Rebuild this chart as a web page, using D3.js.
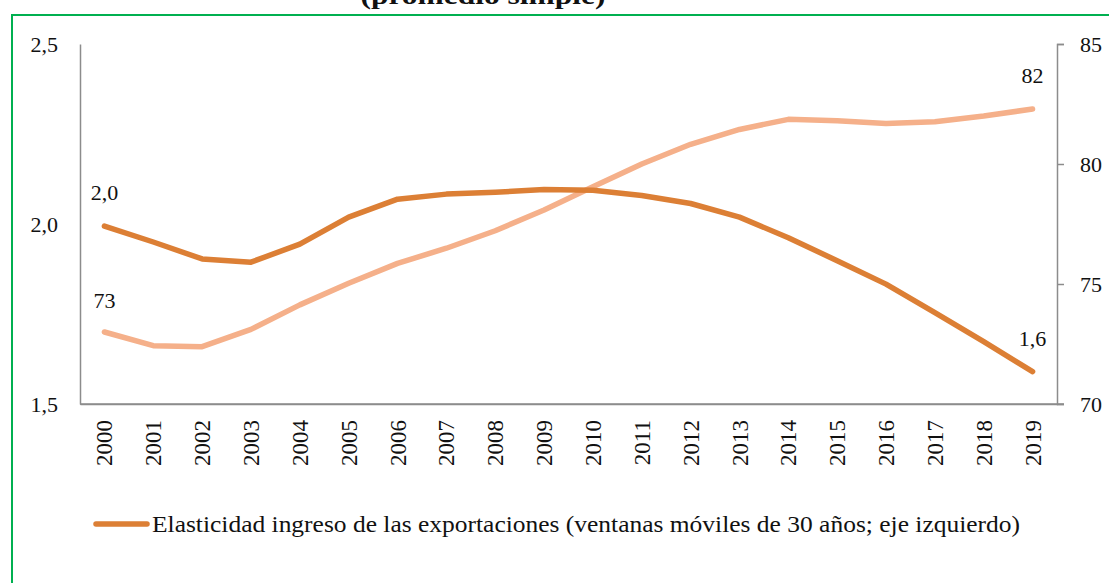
<!DOCTYPE html>
<html>
<head>
<meta charset="utf-8">
<script src="https://cdn.jsdelivr.net/npm/d3@7"></script>
<style>
  body { margin: 0; background: #fff; }
  svg text { font-family: "Liberation Serif", "DejaVu Serif", serif; fill: #111; }
</style>
</head>
<body>
<div id="chart"></div>
<script>
// elasticidad (eje izq) y serie clara (eje der), 2000-2019
const years = ['2000','2001','2002','2003','2004','2005','2006','2007','2008','2009',
               '2010','2011','2012','2013','2014','2015','2016','2017','2018','2019']
const elasticidad = [1.994, 1.950, 1.903, 1.894, 1.944, 2.019, 2.069, 2.083, 2.088, 2.096,
                     2.094, 2.079, 2.057, 2.019, 1.962, 1.898, 1.833, 1.754, 1.673, 1.590]
const derecha = [73.0, 72.43, 72.39, 73.11, 74.13, 75.03, 75.86, 76.49, 77.22, 78.08,
                 79.05, 80.0, 80.82, 81.44, 81.86, 81.8, 81.69, 81.76, 82.0, 82.29]
const leftTicks = [1.5, 2.0, 2.5]
const rightTicks = [70, 75, 80, 85]
const legendLabel = 'Elasticidad ingreso de las exportaciones (ventanas móviles de 30 años; eje izquierdo)'
const title = '(promedio simple)'

const width = 1109
const height = 583
const m = {left: 80, right: 1057, top: 44, bottom: 404}
const darkColor = '#dc7f35'
const lightColor = '#f5b08a'
const axisColor = '#8c8c8c'

const comma1 = d => d.toFixed(1).replace('.', ',')

const svg = d3.select('#chart').append('svg')
    .attr('width', width)
    .attr('height', height)

// marco verde
svg.append('rect')
    .attr('x', 12).attr('y', 15)
    .attr('width', 1200).attr('height', 700)
    .attr('fill', 'none')
    .attr('stroke', '#00b050')
    .attr('stroke-width', 2)

// título (cortado arriba, como en el original)
svg.append('text')
    .attr('x', 483).attr('y', 4)
    .attr('text-anchor', 'middle')
    .attr('textLength', 245)
    .attr('lengthAdjust', 'spacingAndGlyphs')
    .style('font-size', '26px')
    .style('font-weight', 'bold')
    .text(title)

let xScale = d3.scaleBand()
    .domain(years)
    .range([m.left, m.right])

let yLeft = d3.scaleLinear()
    .domain([1.5, 2.5])
    .range([m.bottom, m.top])

let yRight = d3.scaleLinear()
    .domain([70, 85])
    .range([m.bottom, m.top])

let xAxis = d3.axisBottom(xScale).tickSize(0).tickPadding(0)
let leftAxis = d3.axisLeft(yLeft).tickValues(leftTicks).tickSize(0).tickPadding(22).tickFormat(comma1)
let rightAxis = d3.axisRight(yRight).tickValues(rightTicks).tickSize(7).tickSizeOuter(7).tickPadding(16)

let xAxisGroup = svg.append('g')
    .attr('class', 'x-axis')
    .attr('transform', `translate(0,${m.bottom})`)
    .call(xAxis)

let leftGroup = svg.append('g')
    .attr('class', 'y-axis')
    .attr('transform', `translate(${m.left},0)`)
    .call(leftAxis)

let rightGroup = svg.append('g')
    .attr('class', 'y-axis-right')
    .attr('transform', `translate(${m.right},0)`)
    .call(rightAxis)

svg.selectAll('.domain, .tick line')
    .attr('stroke', axisColor)
    .attr('stroke-width', 1.5)
svg.selectAll('.tick text')
    .attr('fill', '#111')
    .style('font-size', '22px')
    .style('font-family', '"Liberation Serif", serif')

xAxisGroup.selectAll('text')
    .attr('transform', 'rotate(-90)')
    .attr('x', -16).attr('y', 0)
    .attr('dy', '0.35em')
    .attr('text-anchor', 'end')
    .style('font-size', '23px')

// extiende la línea base hasta la marca del 70
svg.append('line')
    .attr('x1', m.left).attr('x2', m.right + 7)
    .attr('y1', m.bottom).attr('y2', m.bottom)
    .attr('stroke', axisColor).attr('stroke-width', 1.5)

const cx = d => xScale(d) + xScale.bandwidth() / 2

let lineLeft = d3.line()
    .x((d, i) => cx(years[i]))
    .y(d => yLeft(d))
let lineRight = d3.line()
    .x((d, i) => cx(years[i]))
    .y(d => yRight(d))

svg.append('path')
    .datum(derecha)
    .attr('d', lineRight)
    .attr('fill', 'none')
    .attr('stroke', lightColor)
    .attr('stroke-width', 5.5)
    .attr('stroke-linecap', 'round')
    .attr('stroke-linejoin', 'round')

svg.append('path')
    .datum(elasticidad)
    .attr('d', lineLeft)
    .attr('fill', 'none')
    .attr('stroke', darkColor)
    .attr('stroke-width', 5.5)
    .attr('stroke-linecap', 'round')
    .attr('stroke-linejoin', 'round')

// etiquetas de primer y último valor
const last = years.length - 1
const labels = [
    {x: cx(years[0]), y: yLeft(elasticidad[0]) - 26, t: comma1(elasticidad[0])},
    {x: cx(years[last]), y: yLeft(elasticidad[last]) - 26, t: comma1(elasticidad[last])},
    {x: cx(years[0]), y: yRight(derecha[0]) - 24, t: Math.round(derecha[0])},
    {x: cx(years[last]), y: yRight(derecha[last]) - 26, t: Math.round(derecha[last])}
]
svg.selectAll('.dlabel')
    .data(labels)
    .join('text')
    .attr('class', 'dlabel')
    .attr('x', d => d.x)
    .attr('y', d => d.y)
    .attr('text-anchor', 'middle')
    .style('font-size', '22px')
    .text(d => d.t)

// leyenda
svg.append('line')
    .attr('x1', 96).attr('x2', 147)
    .attr('y1', 524).attr('y2', 524)
    .attr('stroke', darkColor)
    .attr('stroke-width', 5.5)
    .attr('stroke-linecap', 'round')

svg.append('text')
    .attr('x', 152).attr('y', 532)
    .attr('textLength', 868)
    .attr('lengthAdjust', 'spacingAndGlyphs')
    .style('font-size', '23px')
    .text(legendLabel)
</script>
</body>
</html>
